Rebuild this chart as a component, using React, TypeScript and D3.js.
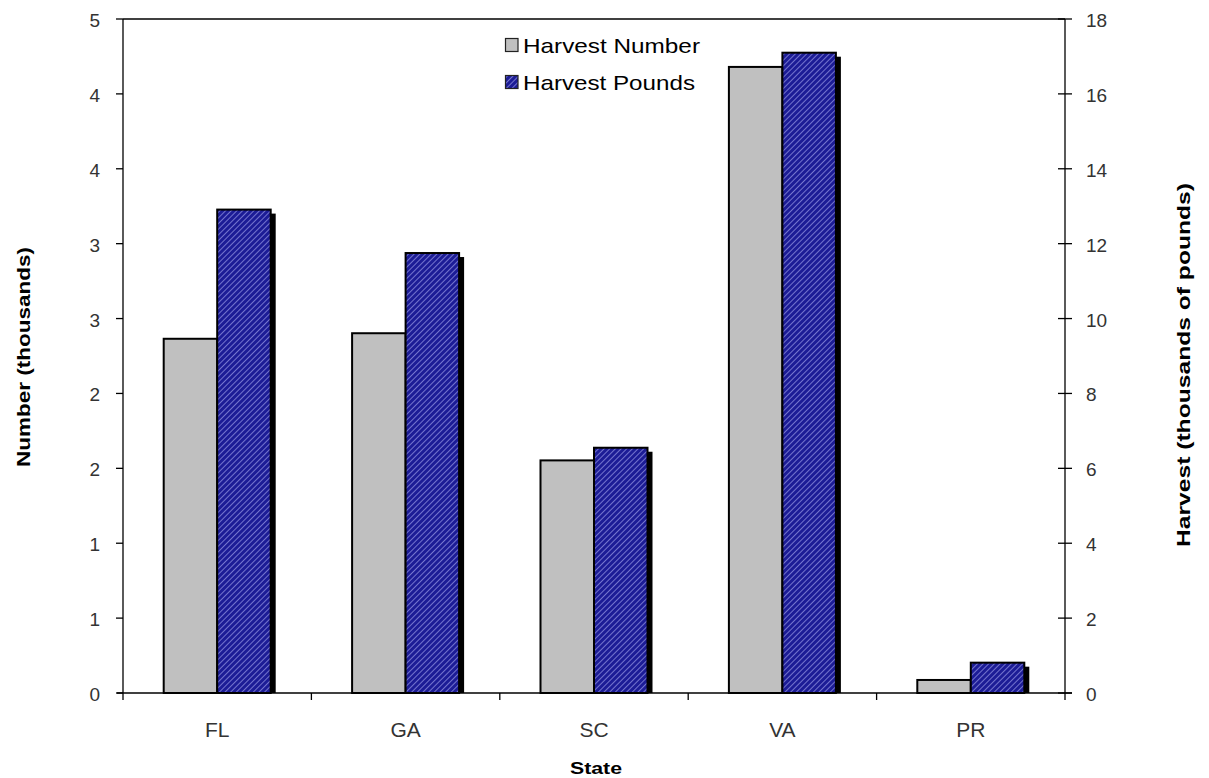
import React from "react";
import * as d3 from "d3";

const states = ["FL", "GA", "SC", "VA", "PR"];
const harvestNumber = [2.365, 2.402, 1.553, 4.18, 0.087];
const harvestPounds = [12.91, 11.75, 6.55, 17.1, 0.81];
const leftTicks = [0, 0.5, 1, 1.5, 2, 2.5, 3, 3.5, 4, 4.5];
const rightTicks = [0, 2, 4, 6, 8, 10, 12, 14, 16, 18];

const W = 1209, H = 778;
const L = 123, R = 1065, T = 19, B = 693;
const FONT = "Liberation Sans, Arial, sans-serif";

function excelRound(v: number) {
  return String(Math.floor(v + 0.5));
}

export default function App() {
  const x = d3.scaleBand<string>().domain(states).range([L, R]).paddingInner(0).paddingOuter(0);
  const yL = d3.scaleLinear().domain([0, 4.5]).range([B, T]);
  const yR = d3.scaleLinear().domain([0, 18]).range([B, T]);
  const bw = 53.5;
  const boundaries = d3.range(states.length + 1).map((i) => L + i * x.bandwidth());

  return (
    <svg width={W} height={H} style={{ position: "absolute", left: 0, top: 0, background: "#fff" }}>
      <defs>
        <pattern id="hatch" patternUnits="userSpaceOnUse" width="4" height="4" patternTransform="rotate(45)">
          <rect width="4" height="4" fill="#1c1c96" />
          <line x1="0" y1="0" x2="0" y2="4" stroke="#9a9ae6" strokeWidth="1.4" />
        </pattern>
      </defs>
      <rect width={W} height={H} fill="#fff" />

      {/* bars */}
      {states.map((s, i) => {
        const c = (x(s) as number) + x.bandwidth() / 2;
        const yg = yL(harvestNumber[i]);
        const yb = yR(harvestPounds[i]);
        return (
          <g key={s}>
            <rect x={c - bw} y={yg} width={bw} height={B - yg} fill="#c0c0c0" stroke="#000" strokeWidth={2} />
            <rect x={c + 5} y={yb + 4} width={bw} height={B - yb - 4} fill="#000" />
            <rect x={c} y={yb} width={bw} height={B - yb} fill="url(#hatch)" stroke="#000" strokeWidth={2} />
          </g>
        );
      })}

      {/* axes frame */}
      <line x1={L} y1={T} x2={R} y2={T} stroke="#000" strokeWidth={1.3} />
      <line x1={L} y1={T} x2={L} y2={B} stroke="#000" strokeWidth={1.3} />
      <line x1={R} y1={T} x2={R} y2={B} stroke="#000" strokeWidth={1.3} />
      <line x1={L - 6} y1={B} x2={R + 7} y2={B} stroke="#000" strokeWidth={1.3} />

      {/* left ticks */}
      {leftTicks.map((t) => (
        <g key={"l" + t}>
          <line x1={L - 7} x2={L} y1={yL(t)} y2={yL(t)} stroke="#000" strokeWidth={1.3} />
          <text x={100} y={yL(t) + 8} textAnchor="end" fontFamily={FONT} fontSize={19} fill="#333">
            {excelRound(t)}
          </text>
        </g>
      ))}

      {/* right ticks */}
      {rightTicks.map((t) => (
        <g key={"r" + t}>
          <line x1={R - 7} x2={R + 7} y1={yR(t)} y2={yR(t)} stroke="#000" strokeWidth={1.3} />
          <text x={R + 21} y={yR(t) + 8} textAnchor="start" fontFamily={FONT} fontSize={19} fill="#333">
            {t}
          </text>
        </g>
      ))}

      {/* bottom ticks */}
      {boundaries.map((b, i) => (
        <line key={"b" + i} x1={b} x2={b} y1={B} y2={B + 7} stroke="#000" strokeWidth={1.3} />
      ))}
      {states.map((s) => (
        <text key={"c" + s} x={(x(s) as number) + x.bandwidth() / 2} y={737} textAnchor="middle" fontFamily={FONT} fontSize={21} fill="#333">
          {s}
        </text>
      ))}

      {/* axis titles */}
      <text x={596} y={774} textAnchor="middle" fontFamily={FONT} fontSize={17} fontWeight="bold" fill="#000" textLength={52} lengthAdjust="spacingAndGlyphs">
        State
      </text>
      <text transform={`translate(30,357) rotate(-90)`} textAnchor="middle" fontFamily={FONT} fontSize={19} fontWeight="bold" fill="#000" textLength={220} lengthAdjust="spacingAndGlyphs">
        Number (thousands)
      </text>
      <text transform={`translate(1190,365) rotate(-90)`} textAnchor="middle" fontFamily={FONT} fontSize={19} fontWeight="bold" fill="#000" textLength={364} lengthAdjust="spacingAndGlyphs">
        Harvest (thousands of pounds)
      </text>

      {/* legend */}
      <rect x={505.5} y={38.5} width={12.5} height={13} fill="#c0c0c0" stroke="#222" strokeWidth={1.2} />
      <text x={523} y={53} fontFamily={FONT} fontSize={21} fill="#000" textLength={177} lengthAdjust="spacingAndGlyphs">Harvest Number</text>
      <rect x={505.5} y={75.5} width={12.5} height={13} fill="url(#hatch)" stroke="#222" strokeWidth={1.2} />
      <text x={523} y={90} fontFamily={FONT} fontSize={21} fill="#000" textLength={172} lengthAdjust="spacingAndGlyphs">Harvest Pounds</text>
    </svg>
  );
}
